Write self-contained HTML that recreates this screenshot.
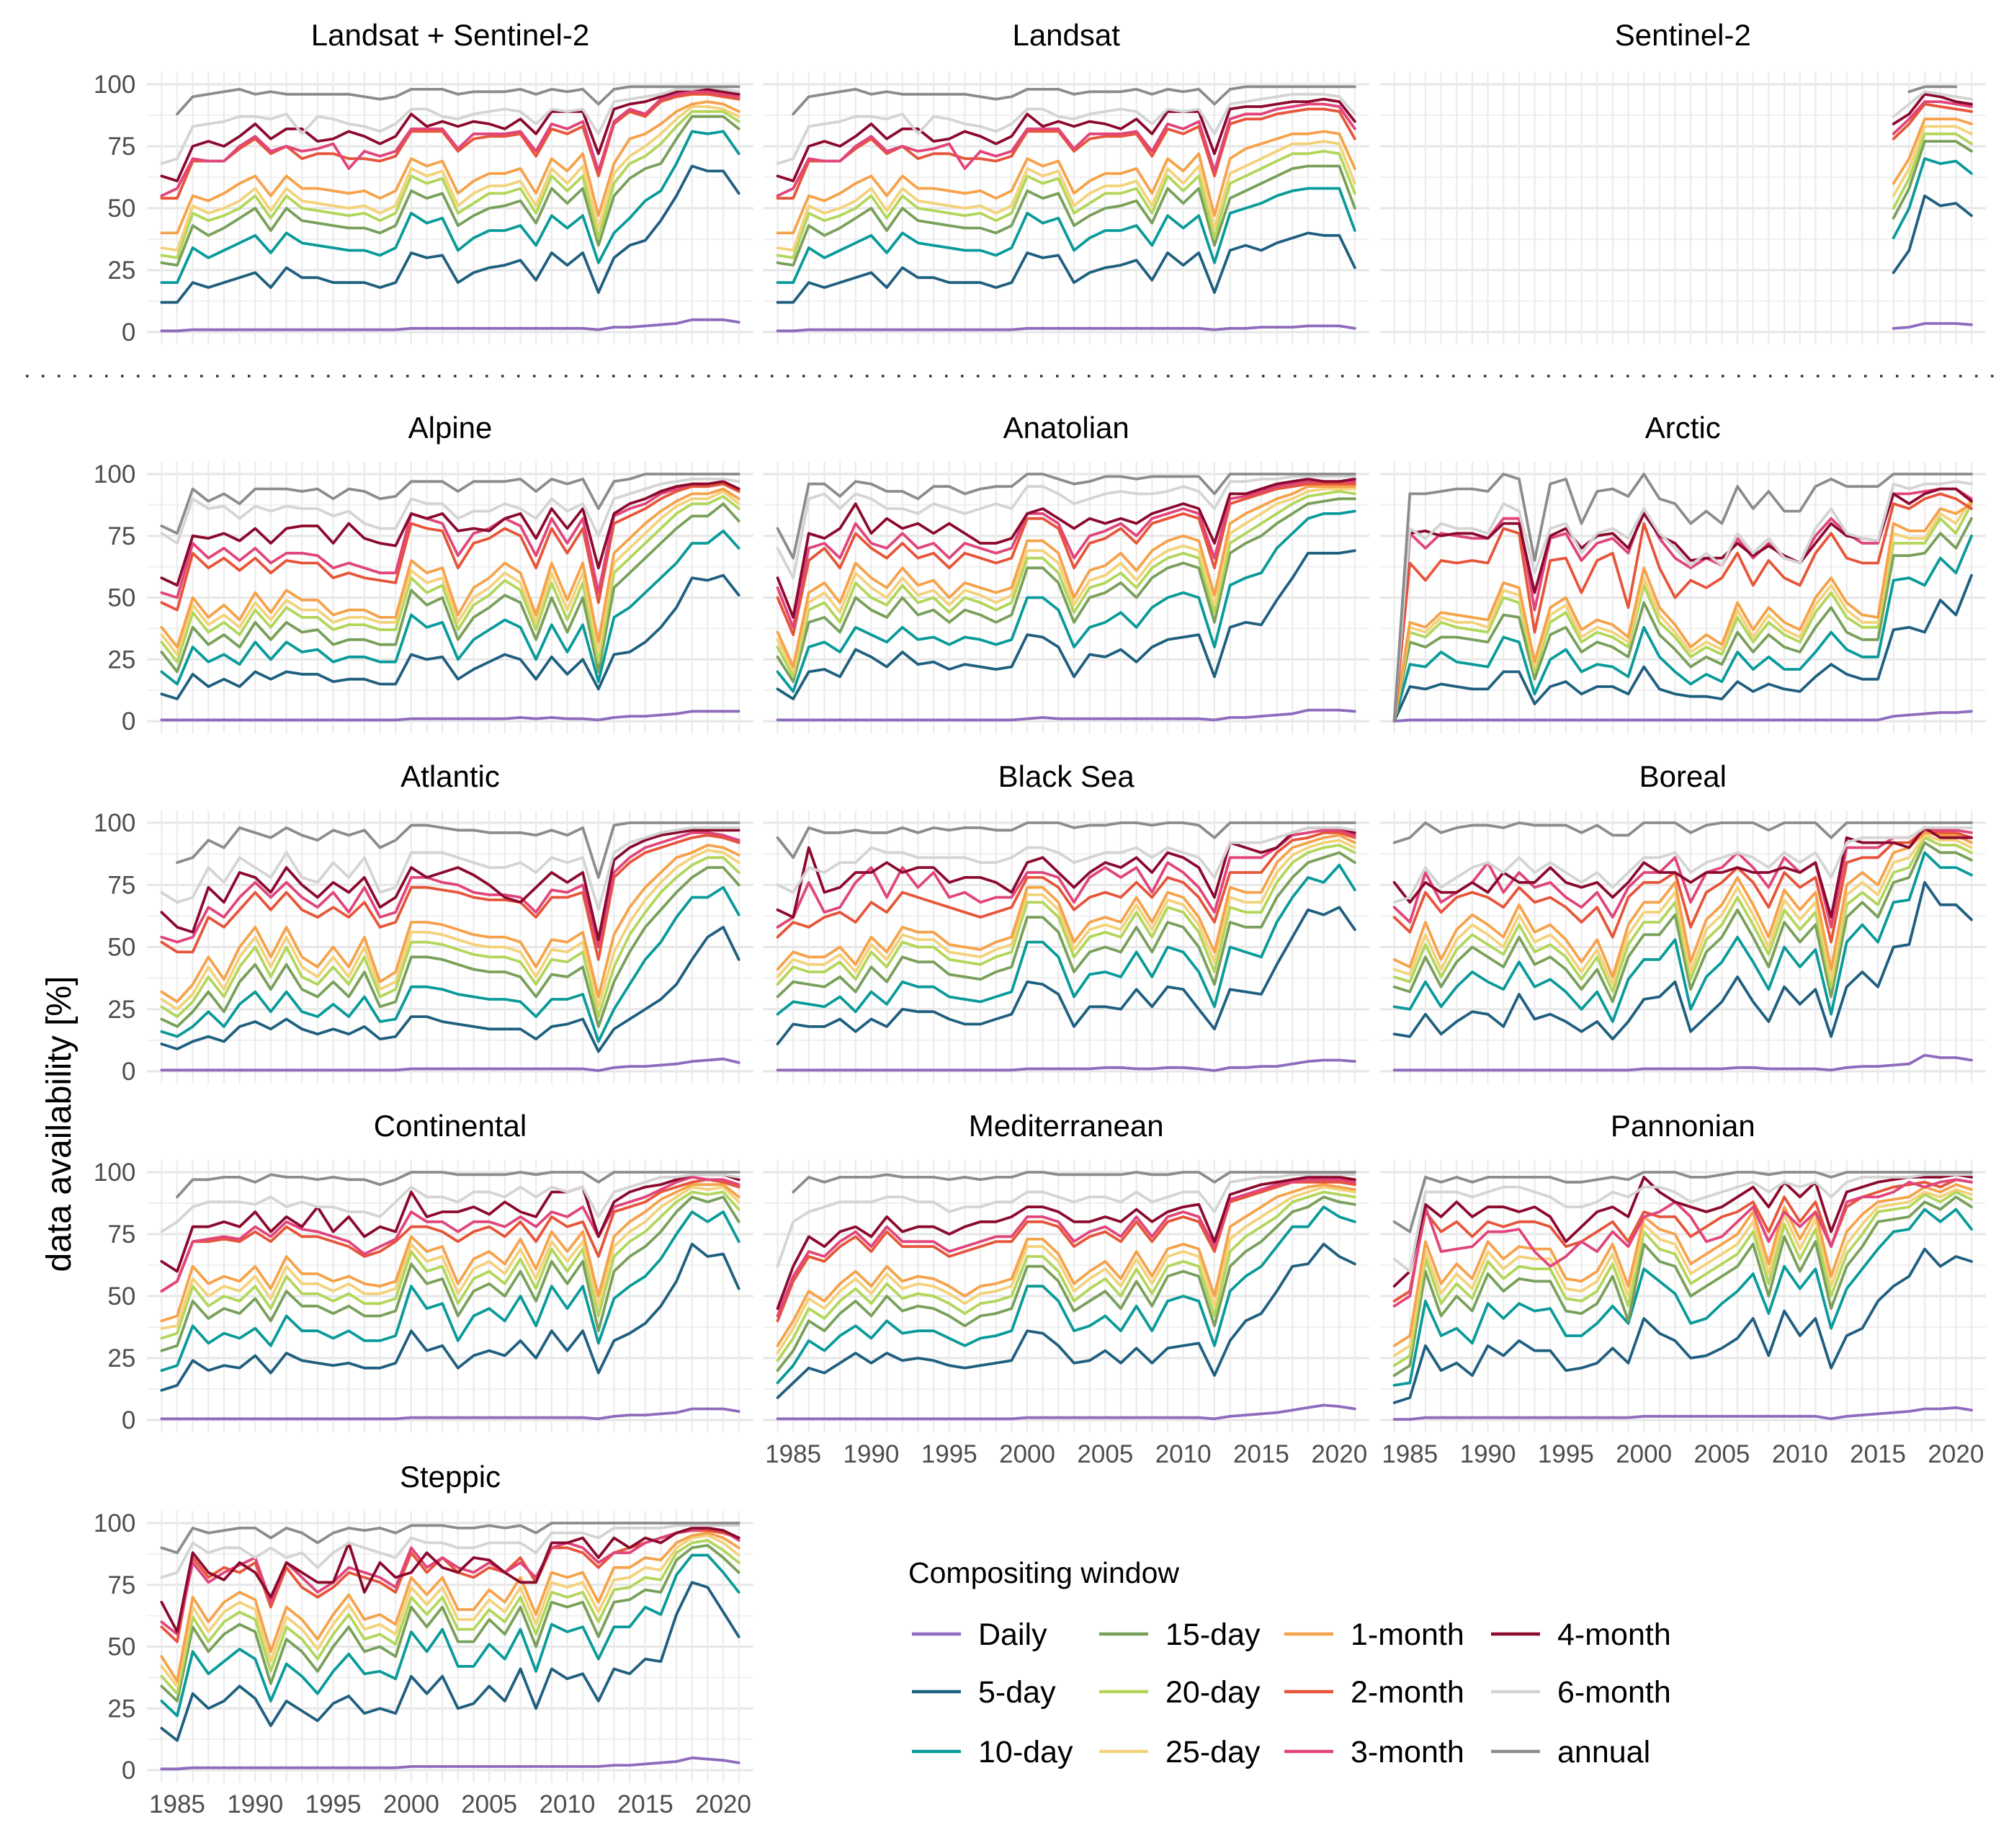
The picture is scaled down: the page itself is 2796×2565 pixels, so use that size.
<!DOCTYPE html>
<html><head><meta charset="utf-8"><title>data availability</title>
<style>
html,body{margin:0;padding:0;background:#fff;}
svg{display:block;font-family:"Liberation Sans",Arial,sans-serif;}
</style></head>
<body>
<svg id="chart" width="2796" height="2565" viewBox="0 0 2796 2565" xmlns="http://www.w3.org/2000/svg">
<rect width="2796" height="2565" fill="#fff"/>
<g id="grid"></g><g id="lines"></g><g id="labels"></g>
<line x1="36" y1="522" x2="2780" y2="522" stroke="#333" stroke-width="3.5" stroke-dasharray="3.5 18.5"/>
<text x="0" y="0" transform="translate(98,1560) rotate(-90)" text-anchor="middle" font-size="48" fill="#000">data availability [%]</text>
<g id="legend">
<text x="1261" y="2197" font-size="41" fill="#000">Compositing window</text>
</g>
</svg>
<script>
const SERIES=['daily','d5','d10','d15','d20','d25','m1','m2','m3','m4','m6','ann'];
const LABELS=['Daily','5-day','10-day','15-day','20-day','25-day','1-month','2-month','3-month','4-month','6-month','annual'];
const COLORS=['#8e6bbd','#1f5f7f','#0a9a9a','#79a05a','#b2d65a','#f3d27a','#f6a24a','#e6553a','#e0457b','#8b0a2e','#d4d4d4','#8c8c8c'];
const xTicks=[1985,1990,1995,2000,2005,2010,2015,2020];
const yTicks=[0,25,50,75,100];

const LS2={
daily:[0.5,0.5,1,1,1,1,1,1,1,1,1,1,1,1,1,1,1.5,1.5,1.5,1.5,1.5,1.5,1.5,1.5,1.5,1.5,1.5,1.5,1,2,2,2.5,3,3.5,5,5,5,4],
d5:[12,12,20,18,20,22,24,18,26,22,22,20,20,20,18,20,32,30,31,20,24,26,27,29,21,32,27,32,16,30,35,37,45,55,67,65,65,56],
d10:[20,20,34,30,33,36,39,32,40,36,35,34,33,33,31,34,48,44,46,33,38,41,41,43,35,47,42,47,28,40,46,53,57,68,81,80,81,72],
d15:[28,27,43,39,42,46,50,41,50,45,44,43,42,42,40,43,57,54,56,43,47,50,51,53,44,58,52,58,35,55,62,66,68,78,87,87,87,82],
d20:[31,30,48,45,47,50,55,46,55,50,49,48,47,48,45,48,63,60,62,48,52,56,56,58,48,63,57,63,38,60,68,71,76,83,89,89,89,85],
d25:[34,33,51,48,50,53,58,49,58,53,52,51,50,51,48,51,66,63,65,51,56,59,59,61,51,66,60,67,42,64,71,75,80,86,91,91,90,87],
m1:[40,40,55,53,56,60,63,55,63,58,58,57,56,57,54,57,70,67,69,56,61,64,64,66,56,70,65,72,47,68,78,80,84,89,92,93,92,89],
m2:[54,54,69,69,69,74,78,72,75,70,72,72,70,70,69,71,81,81,81,73,78,79,79,80,71,82,80,83,63,84,89,87,93,95,96,96,95,94],
m3:[55,58,70,69,69,75,79,73,75,73,74,76,66,73,71,73,82,82,82,74,80,80,80,81,73,84,82,85,65,85,90,88,94,96,97,97,96,95],
m4:[63,61,75,77,75,79,84,78,82,82,77,78,81,79,76,79,88,83,85,83,85,84,82,86,80,89,89,89,72,90,92,93,95,97,98,98,97,96],
m6:[68,70,83,84,85,87,87,86,88,80,87,86,84,83,81,84,90,90,87,86,88,89,90,89,84,90,89,90,80,93,94,95,96,98,98,99,98,97],
ann:[null,88,95,96,97,98,96,97,96,96,96,96,96,95,94,95,98,98,98,96,97,97,97,98,96,98,97,98,92,98,99,99,99,99,99,99,99,99]};

const LANDSAT={
daily:[0.5,0.5,1,1,1,1,1,1,1,1,1,1,1,1,1,1,1.5,1.5,1.5,1.5,1.5,1.5,1.5,1.5,1.5,1.5,1.5,1.5,1,1.5,1.5,2,2,2,2.5,2.5,2.5,1.5],
d5:[12,12,20,18,20,22,24,18,26,22,22,20,20,20,18,20,32,30,31,20,24,26,27,29,21,32,27,32,16,33,35,33,36,38,40,39,39,26],
d10:[20,20,34,30,33,36,39,32,40,36,35,34,33,33,31,34,48,44,46,33,38,41,41,43,35,47,42,47,28,48,50,52,55,57,58,58,58,41],
d15:[28,27,43,39,42,46,50,41,50,45,44,43,42,42,40,43,57,54,56,43,47,50,51,53,44,58,52,58,35,54,57,60,63,66,67,67,67,50],
d20:[31,30,48,45,47,50,55,46,55,50,49,48,47,48,45,48,63,60,62,48,52,56,56,58,48,63,57,63,38,60,63,66,69,72,72,73,72,56],
d25:[34,33,51,48,50,53,58,49,58,53,52,51,50,51,48,51,66,63,65,51,56,59,59,61,51,66,60,67,42,64,67,70,73,76,76,77,76,60],
m1:[40,40,55,53,56,60,63,55,63,58,58,57,56,57,54,57,70,67,69,56,61,64,64,66,56,70,65,72,47,70,74,76,78,80,80,81,80,66],
m2:[54,54,69,69,69,74,78,72,75,70,72,72,70,70,69,71,81,81,81,73,78,79,79,80,71,82,80,83,63,84,86,86,88,89,90,90,89,78],
m3:[55,58,70,69,69,75,79,73,75,73,74,76,66,73,71,73,82,82,82,74,80,80,80,81,73,84,82,85,65,86,88,88,90,91,92,92,91,82],
m4:[63,61,75,77,75,79,84,78,82,82,77,78,81,79,76,79,88,83,85,83,85,84,82,86,80,89,89,89,72,90,91,91,92,93,93,94,93,85],
m6:[68,70,83,84,85,87,87,86,88,80,87,86,84,83,81,84,90,90,87,86,88,89,90,89,84,90,89,90,80,92,93,94,95,96,96,96,95,88],
ann:[null,88,95,96,97,98,96,97,96,96,96,96,96,95,94,95,98,98,98,96,97,97,97,98,96,98,97,98,92,98,99,99,99,99,99,99,99,99]};

const S2={
daily:[1.5,2,3.5,3.5,3.5,3],
d5:[24,33,55,51,52,47],
d10:[38,50,70,68,69,64],
d15:[46,58,77,77,77,73],
d20:[50,62,80,80,80,76],
d25:[55,66,83,83,83,80],
m1:[60,70,86,86,86,84],
m2:[78,84,92,91,90,89],
m3:[80,86,93,93,92,91],
m4:[84,88,96,95,93,92],
m6:[87,92,97,96,95,94],
ann:[null,97,99,99,99,null]};

const ALPINE={
daily:[0.5,0.5,0.5,0.5,0.5,0.5,0.5,0.5,0.5,0.5,0.5,0.5,0.5,0.5,0.5,0.5,1,1,1,1,1,1,1,1.5,1,1.5,1,1,0.5,1.5,2,2,2.5,3,4,4,4,4],
d5:[11,9,19,14,17,14,20,17,20,19,19,16,17,17,15,15,27,25,26,17,21,24,27,25,17,26,19,25,13,27,28,32,38,46,58,57,59,51],
d10:[20,15,30,24,27,23,32,25,32,28,29,24,26,26,24,24,43,38,40,25,33,37,41,38,25,39,28,39,16,42,46,52,58,64,72,72,77,70],
d15:[28,20,38,31,35,30,40,33,40,36,37,31,33,33,31,31,53,47,50,33,42,46,51,48,33,50,36,50,20,54,60,66,72,78,83,83,88,81],
d20:[32,24,44,36,40,35,45,38,46,42,42,37,39,39,37,37,58,52,55,37,47,51,57,53,37,56,41,56,24,60,66,72,78,84,88,88,91,86],
d25:[35,27,47,39,43,38,48,41,49,45,45,40,42,42,40,40,61,56,58,40,50,54,60,56,40,60,45,60,28,64,70,76,82,87,90,90,93,88],
m1:[38,30,50,42,47,41,52,44,53,49,49,43,45,45,42,42,65,60,62,43,54,58,64,60,43,64,49,64,32,68,74,80,85,89,92,92,94,90],
m2:[48,45,68,62,66,61,66,60,65,64,64,58,60,58,57,56,80,78,77,62,72,74,78,75,62,78,68,78,48,80,83,86,90,93,95,95,96,93],
m3:[52,50,72,66,70,65,70,64,68,68,67,62,64,62,60,60,84,82,80,67,76,78,82,79,67,82,72,82,52,83,86,88,92,94,96,96,97,94],
m4:[58,55,75,74,76,73,78,72,78,79,79,72,80,74,72,71,84,82,84,77,78,77,82,84,74,86,78,86,62,84,88,90,93,95,96,96,97,94],
m6:[76,72,90,86,87,82,87,85,87,86,86,83,85,80,78,78,90,88,88,82,85,85,88,86,82,90,85,88,75,90,92,94,96,97,98,98,98,97],
ann:[79,76,94,89,92,88,94,94,94,93,94,90,94,93,90,91,97,97,97,93,97,97,97,98,93,98,96,98,86,97,98,100,100,100,100,100,100,100]};

const ANATOLIAN={
daily:[0.5,0.5,0.5,0.5,0.5,0.5,0.5,0.5,0.5,0.5,0.5,0.5,0.5,0.5,0.5,0.5,1,1.5,1,1,1,1,1,1,1,1,1,1,0.5,1.5,1.5,2,2.5,3,4.5,4.5,4.5,4],
d5:[13,9,20,21,18,29,26,22,28,23,24,21,23,22,21,22,35,34,30,18,27,26,29,24,30,33,34,35,18,38,40,39,49,58,68,68,68,69],
d10:[20,12,30,32,28,38,35,32,38,33,34,31,34,33,31,33,50,50,45,30,38,40,44,38,46,50,52,50,30,55,58,60,70,76,82,84,84,85],
d15:[26,16,40,42,36,50,45,42,50,43,45,40,45,43,40,43,62,62,56,40,50,52,56,50,58,62,64,62,40,68,72,75,80,84,88,89,90,90],
d20:[30,18,45,48,40,56,50,47,55,48,50,44,50,48,45,48,66,66,60,44,54,56,60,54,62,66,68,66,44,72,76,80,84,88,91,92,93,92],
d25:[33,20,48,52,44,60,54,50,58,51,53,47,53,51,48,51,69,69,64,47,57,59,64,57,65,69,71,69,47,76,80,84,88,90,93,94,94,94],
m1:[36,22,52,56,48,64,58,54,62,55,57,50,56,54,52,54,73,73,68,50,61,63,68,61,69,73,75,73,51,80,84,87,90,92,95,95,95,95],
m2:[50,35,65,70,62,76,70,66,72,66,68,62,68,66,64,66,82,82,78,62,72,74,78,72,80,82,84,82,62,88,90,92,94,95,96,96,96,96],
m3:[54,38,70,72,66,80,72,70,76,70,72,66,72,70,68,70,84,84,80,66,75,77,80,75,82,84,86,84,66,90,91,93,95,96,97,97,97,97],
m4:[58,42,76,74,78,88,76,82,78,80,76,80,76,72,72,74,84,86,82,78,82,80,82,80,84,86,88,86,72,92,92,94,96,97,98,97,97,98],
m6:[70,58,90,92,86,92,90,86,86,84,88,86,84,86,88,86,95,95,92,88,90,92,93,92,92,93,95,93,86,97,97,98,98,99,99,99,99,99],
ann:[78,66,96,96,91,97,96,93,93,90,95,95,92,94,95,95,100,100,98,96,97,99,99,98,99,99,99,99,92,100,100,100,100,100,100,100,100,100]};

const ARCTIC={
daily:[0,0.5,0.5,0.5,0.5,0.5,0.5,0.5,0.5,0.5,0.5,0.5,0.5,0.5,0.5,0.5,0.5,0.5,0.5,0.5,0.5,0.5,0.5,0.5,0.5,0.5,0.5,0.5,0.5,0.5,0.5,0.5,2,2.5,3,3.5,3.5,4],
d5:[0,14,13,15,14,13,13,20,20,7,14,16,11,14,14,11,22,13,11,10,10,9,16,12,15,13,12,18,23,19,17,17,37,38,36,49,43,59],
d10:[0,23,22,28,24,23,22,34,32,11,25,29,20,23,22,18,38,26,20,15,19,16,28,21,26,21,21,28,36,29,26,26,57,58,55,66,60,75],
d15:[0,32,30,34,34,33,32,43,42,17,35,38,28,32,30,26,48,35,29,22,26,23,36,28,35,30,28,38,46,36,33,33,67,67,68,76,70,82],
d20:[0,36,34,40,38,37,36,50,48,20,40,44,32,36,34,30,55,40,34,26,30,27,42,32,40,35,32,44,52,42,38,38,72,72,72,82,76,88],
d25:[0,38,36,42,40,40,38,53,51,22,43,47,34,38,36,32,58,43,36,28,32,29,45,34,43,37,34,47,55,45,40,40,76,74,74,84,80,90],
m1:[0,40,38,44,43,42,41,56,54,24,46,50,37,41,39,34,62,46,39,30,35,31,48,37,46,40,37,50,58,48,43,42,80,77,77,86,84,88],
m2:[0,64,57,65,64,65,64,78,76,36,65,66,52,65,68,46,80,62,50,57,54,58,68,55,65,58,55,68,76,66,64,64,88,86,90,92,90,86],
m3:[0,76,70,76,75,74,74,82,82,45,74,76,65,72,74,68,86,74,66,62,66,63,74,66,72,66,64,75,82,76,72,72,92,92,93,94,94,90],
m4:[0,76,77,75,76,76,74,80,80,52,75,78,70,75,76,70,84,75,72,65,66,66,72,67,71,67,64,72,80,75,74,73,92,88,92,94,94,89],
m6:[0,78,74,80,78,78,76,88,85,60,78,80,68,76,78,74,86,76,70,63,68,63,76,68,74,66,64,78,86,76,74,73,96,94,96,96,97,96],
ann:[0,92,92,93,94,94,93,100,98,65,96,98,80,93,94,91,100,90,88,80,85,80,95,86,93,85,85,95,98,95,95,95,100,100,100,100,100,100]};

const ATLANTIC={
daily:[0.5,0.5,0.5,0.5,0.5,0.5,0.5,0.5,0.5,0.5,0.5,0.5,0.5,0.5,0.5,0.5,1,1,1,1,1,1,1,1,1,1,1,1,0.3,1.5,2,2,2.5,3,4,4.5,5,3.5],
d5:[11,9,12,14,12,18,20,17,21,17,15,17,15,18,13,14,22,22,20,19,18,17,17,17,13,18,19,21,8,17,21,25,29,35,45,54,58,45],
d10:[16,14,18,24,18,27,32,24,32,24,22,27,22,30,20,21,34,34,33,31,30,29,29,28,22,29,29,31,12,25,35,45,52,62,70,70,74,63],
d15:[21,18,24,32,24,36,43,33,43,33,30,36,30,40,26,28,46,46,45,43,41,40,40,38,30,39,38,42,18,36,48,58,65,72,78,82,82,75],
d20:[26,22,28,38,30,42,50,38,50,38,35,42,35,46,30,33,52,52,51,49,47,46,46,44,35,45,44,48,22,42,55,64,72,78,83,86,86,80],
d25:[29,25,31,42,33,46,54,42,54,42,38,46,38,50,33,36,56,56,55,53,51,50,50,48,38,49,48,52,26,48,60,69,76,82,86,89,88,84],
m1:[32,28,35,46,37,50,58,46,58,46,42,50,42,54,36,40,60,60,59,57,55,54,54,52,42,53,52,56,30,55,66,74,80,86,88,91,90,87],
m2:[52,48,48,62,58,65,72,65,72,65,62,66,62,68,58,60,74,74,73,72,70,69,69,68,62,70,70,72,45,78,84,88,90,92,94,95,94,92],
m3:[54,52,54,66,62,70,76,70,76,70,66,72,64,74,62,64,78,78,76,75,72,71,71,70,64,73,72,75,50,80,86,90,92,94,96,96,95,93],
m4:[64,58,56,74,68,80,78,72,82,75,70,76,72,78,66,70,82,78,80,82,79,75,70,68,74,80,76,80,53,85,90,93,95,96,97,97,97,97],
m6:[72,68,70,82,76,86,82,78,88,78,76,84,78,86,72,74,88,88,88,86,84,82,82,84,80,86,84,86,65,88,92,94,96,97,98,98,98,98],
ann:[null,84,86,93,90,98,96,94,98,95,93,97,95,97,90,93,99,99,98,97,97,96,96,96,95,97,95,98,78,99,100,100,100,100,100,100,100,100]};

const BLACKSEA={
daily:[0.5,0.5,0.5,0.5,0.5,0.5,0.5,0.5,0.5,0.5,0.5,0.5,0.5,0.5,0.5,0.5,1,1,1,1,1,1.5,1.5,1,1,1.5,1.5,1,0.3,1.5,1.5,2,2,3,4,4.5,4.5,4],
d5:[11,19,18,18,21,16,21,18,25,24,24,21,19,19,21,23,36,35,31,18,26,26,25,33,26,34,33,25,17,33,32,31,43,54,65,63,66,57],
d10:[23,28,27,26,30,24,32,27,36,34,34,30,29,28,30,32,52,52,46,30,39,40,38,48,38,50,48,40,26,50,48,46,60,70,78,76,83,73],
d15:[30,36,35,34,38,32,42,36,46,44,44,39,38,37,40,42,62,62,56,40,48,50,48,58,48,60,58,50,35,60,58,58,70,78,84,86,88,84],
d20:[35,42,40,40,44,37,48,42,52,50,50,45,44,43,46,48,68,68,62,46,54,56,54,64,54,66,64,56,40,66,64,64,76,84,88,90,91,88],
d25:[38,45,43,43,47,40,51,45,55,53,53,48,47,46,49,51,71,71,65,49,57,59,57,67,57,69,67,59,44,70,68,68,80,87,90,92,93,90],
m1:[41,48,46,46,50,43,54,48,58,56,56,51,50,49,52,54,74,74,68,52,60,62,60,70,60,72,70,62,48,74,72,72,84,90,92,94,95,92],
m2:[54,60,58,62,64,60,68,64,72,70,68,66,64,62,64,66,78,78,74,65,70,72,70,76,70,78,76,70,60,80,80,80,88,93,94,96,96,94],
m3:[58,62,76,64,66,76,82,70,82,74,80,70,72,68,70,70,80,80,78,68,78,82,78,82,72,84,80,74,64,86,86,86,90,95,96,97,97,95],
m4:[65,62,90,72,74,80,80,84,80,82,82,76,78,78,76,72,84,86,80,74,80,84,82,86,80,88,86,82,70,92,90,88,90,96,98,98,98,96],
m6:[75,72,82,80,84,84,90,88,88,86,86,86,86,84,84,86,90,90,88,84,86,88,88,90,86,90,88,86,78,92,92,92,94,96,98,98,98,97],
ann:[94,86,98,96,96,97,96,96,98,96,98,97,98,98,97,97,100,100,100,98,99,99,100,100,99,100,100,99,94,100,100,100,100,100,100,100,100,100]};

const BOREAL={
daily:[0.5,0.5,0.5,0.5,0.5,0.5,0.5,0.5,0.5,0.5,0.5,0.5,0.5,0.5,0.5,0.5,1,1,1,1,1,1,1.5,1.5,1,1,1,1,0.5,1.5,2,2,2.5,3,6.5,5.5,5.5,4.5],
d5:[15,14,23,15,20,24,23,18,31,21,23,20,16,20,13,20,29,30,36,16,22,28,38,28,20,34,27,33,14,34,40,34,50,51,76,67,67,61],
d10:[26,25,36,26,34,40,36,33,44,34,37,32,25,32,20,37,45,45,53,25,38,44,54,44,33,50,42,49,23,52,59,52,68,69,88,82,82,79],
d15:[34,32,46,34,44,50,46,42,54,43,46,41,33,41,28,46,55,55,63,33,48,54,65,54,42,60,52,59,30,62,68,62,76,78,92,88,88,85],
d20:[38,36,51,38,49,55,51,47,59,48,51,46,37,46,32,51,60,60,68,37,53,59,70,59,47,65,57,64,34,67,72,67,80,82,94,91,91,88],
d25:[41,39,55,41,53,59,55,50,63,52,55,49,40,49,35,55,64,64,72,40,57,63,74,63,50,69,61,68,37,71,76,71,84,86,95,93,93,90],
m1:[45,42,60,45,57,63,59,54,67,56,59,53,44,53,38,59,68,68,76,44,61,67,78,67,54,73,65,72,41,75,80,75,88,90,96,95,95,92],
m2:[62,56,72,64,70,72,70,66,74,68,70,66,60,66,54,70,76,76,80,58,72,76,82,76,66,80,74,78,52,84,86,86,92,92,97,96,96,94],
m3:[66,60,80,68,72,76,84,72,80,74,76,70,66,72,62,74,80,80,86,68,80,82,88,82,74,86,80,84,58,90,90,90,94,94,98,97,97,96],
m4:[76,68,76,72,72,76,72,80,76,76,82,76,74,76,70,76,84,80,80,76,80,80,82,80,80,82,80,84,62,94,92,92,92,90,98,94,94,94],
m6:[68,70,82,74,78,82,84,80,86,80,84,80,76,80,74,80,86,86,88,80,84,86,88,86,82,88,84,88,78,92,94,94,94,94,98,98,98,98],
ann:[92,94,100,96,98,99,99,98,100,99,99,99,96,99,95,95,100,100,100,96,99,100,100,100,97,100,100,100,94,100,100,100,100,100,100,100,100,100]};

const CONTINENTAL={
daily:[0.5,0.5,0.5,0.5,0.5,0.5,0.5,0.5,0.5,0.5,0.5,0.5,0.5,0.5,0.5,0.5,1,1,1,1,1,1,1,1,1,1,1,1,0.5,1.5,2,2,2.5,3,4.5,4.5,4.5,3.5],
d5:[12,14,24,20,22,21,26,19,27,24,23,22,23,21,21,23,36,28,30,21,26,28,26,32,25,36,28,36,19,32,35,39,46,56,71,66,67,53],
d10:[20,22,38,31,35,33,37,30,42,36,36,33,36,32,32,34,54,45,47,32,42,45,40,50,38,54,45,54,31,49,54,58,65,75,84,80,84,72],
d15:[28,30,48,41,45,43,49,40,52,46,46,43,46,42,42,44,63,55,57,42,52,55,50,60,48,64,55,64,36,60,66,70,76,84,90,88,90,80],
d20:[33,35,54,46,50,48,54,45,58,51,51,48,51,47,47,49,68,60,62,47,57,60,55,65,53,69,60,69,42,66,72,76,82,88,92,91,92,85],
d25:[37,38,57,50,54,52,58,49,62,55,55,52,55,51,51,53,71,64,66,51,61,64,59,69,57,72,64,72,46,70,76,80,86,90,94,93,94,88],
m1:[40,42,62,55,58,56,62,53,66,59,59,56,58,55,54,56,74,68,70,55,65,68,63,73,61,76,68,76,50,74,80,84,89,92,95,95,95,90],
m2:[52,56,72,72,73,72,76,72,78,74,74,72,70,66,68,72,78,78,76,72,76,78,74,80,72,82,78,80,66,84,86,88,92,94,96,97,96,94],
m3:[52,56,72,73,74,73,78,74,80,77,76,74,72,67,70,73,84,80,80,76,80,80,78,82,78,84,82,86,74,86,88,90,93,96,98,97,97,95],
m4:[64,60,78,78,80,78,84,76,82,78,86,76,82,74,78,76,92,82,84,84,86,83,88,84,82,92,92,94,74,88,92,94,95,97,99,99,99,97],
m6:[76,80,86,88,88,88,87,90,86,88,86,86,84,84,82,88,94,90,90,88,92,92,90,94,90,94,92,94,82,92,94,96,98,98,99,99,99,98],
ann:[null,90,97,97,98,98,96,99,98,98,97,98,97,97,95,97,100,100,100,99,99,99,99,100,99,100,100,100,96,100,100,100,100,100,100,100,100,100]};

const MEDITERRANEAN={
daily:[0.5,0.5,0.5,0.5,0.5,0.5,0.5,0.5,0.5,0.5,0.5,0.5,0.5,0.5,0.5,0.5,1,1,1,1,1,1,1,1,1,1,1,1,0.5,1.5,2,2.5,3,4,5,6,5.5,4.5],
d5:[9,15,21,19,23,27,23,27,24,25,24,22,21,22,23,24,36,35,30,23,24,28,23,29,23,29,30,31,18,32,40,43,52,62,63,71,66,63],
d10:[15,22,32,28,34,38,33,40,35,36,36,33,30,33,34,36,54,54,48,36,38,42,36,46,36,48,50,48,30,52,58,62,70,78,78,86,82,80],
d15:[20,28,40,36,43,48,42,50,44,46,45,42,38,42,43,45,62,62,56,44,48,52,45,56,46,58,60,58,38,62,68,72,78,84,86,90,88,87],
d20:[24,33,45,41,48,53,47,55,49,51,50,47,43,47,48,50,66,66,60,48,53,57,50,61,51,62,64,62,42,68,74,78,82,88,90,92,91,90],
d25:[27,37,49,45,52,57,51,59,53,55,54,51,47,51,52,54,70,70,64,52,57,61,54,65,55,66,68,66,46,73,78,82,86,90,92,94,93,92],
m1:[30,40,52,48,55,60,54,62,56,58,57,54,50,54,55,57,73,73,67,55,60,64,57,68,58,69,71,69,50,78,82,86,90,92,94,95,94,93],
m2:[40,56,66,64,70,74,68,76,70,70,70,66,68,70,72,72,80,80,78,70,74,76,72,80,72,80,82,80,68,88,90,92,94,96,96,96,96,95],
m3:[42,58,68,66,72,76,70,78,72,72,72,68,70,72,74,74,82,82,80,72,76,78,74,82,74,82,84,82,70,89,91,93,95,96,97,97,97,96],
m4:[45,62,74,70,76,78,74,82,76,78,78,75,78,80,80,82,86,86,84,80,80,82,80,85,80,84,86,87,72,91,93,95,96,97,98,98,98,97],
m6:[62,80,84,86,88,88,88,90,90,88,88,84,86,86,88,88,92,92,90,88,90,90,88,92,88,90,92,92,84,96,97,98,98,99,99,99,99,99],
ann:[null,92,98,96,98,98,98,99,98,98,98,97,98,97,98,98,100,100,99,99,99,99,99,100,99,99,100,100,96,100,100,100,100,100,100,100,100,100]};

const PANNONIAN={
daily:[0.3,0.3,1,1,1,1,1,1,1,1,1,1,1,1,1,1,1.5,1.5,1.5,1.5,1.5,1.5,1.5,1.5,1.5,1.5,1.5,1.5,0.5,1.5,2,2.5,3,3.5,4.5,4.5,5,4],
d5:[7,9,30,20,23,18,30,26,32,28,28,20,21,23,29,23,41,35,32,25,26,29,33,41,26,44,34,41,21,34,37,48,54,58,69,62,66,64],
d10:[14,15,48,34,37,31,47,41,47,44,45,34,34,39,46,39,61,56,51,39,41,47,52,59,43,62,53,61,37,53,61,69,76,77,85,80,85,77],
d15:[18,22,60,42,50,44,59,52,57,56,56,44,43,47,58,40,71,64,62,50,54,58,62,71,50,74,60,72,45,62,70,80,81,82,88,85,90,86],
d20:[22,26,65,47,55,49,64,57,62,61,61,49,48,52,63,46,76,69,67,55,59,63,67,76,55,79,65,77,50,67,75,84,85,86,91,88,92,89],
d25:[26,30,68,51,59,53,68,61,66,65,65,53,52,56,67,50,79,73,71,59,63,67,71,80,59,83,69,81,54,71,79,86,87,88,92,90,93,91],
m1:[30,34,72,55,63,57,72,65,70,69,69,57,56,60,71,54,82,77,75,63,67,71,75,84,63,86,73,84,58,76,83,88,89,90,94,92,95,93],
m2:[48,52,84,76,80,74,80,78,80,80,78,70,72,76,80,72,84,82,82,74,78,82,84,88,76,90,80,88,70,86,90,92,94,95,96,94,97,96],
m3:[46,50,86,68,69,70,76,76,77,68,62,66,72,68,76,70,82,84,88,82,72,74,80,86,72,84,78,84,70,88,90,90,92,96,94,96,97,96],
m4:[54,60,87,82,88,82,86,86,84,86,82,72,78,84,86,82,98,92,88,86,84,86,90,94,86,96,90,96,76,92,94,96,97,98,98,98,99,98],
m6:[65,60,92,92,92,90,92,94,94,92,90,86,86,88,92,90,94,94,92,88,90,92,94,96,92,96,94,96,90,96,98,98,98,98,99,99,99,99],
ann:[80,76,98,96,98,96,98,98,98,98,98,96,96,97,98,97,100,100,100,98,98,99,100,100,99,100,100,100,98,100,100,100,100,100,100,100,100,100]};

const STEPPIC={
daily:[0.5,0.5,1,1,1,1,1,1,1,1,1,1,1,1,1,1,1.5,1.5,1.5,1.5,1.5,1.5,1.5,1.5,1.5,1.5,1.5,1.5,1.5,2,2,2.5,3,3.5,5,4.5,4,3],
d5:[17,12,31,25,28,34,29,18,28,24,20,27,30,23,25,23,38,31,38,25,27,34,28,41,25,41,37,39,28,41,39,45,44,63,76,74,64,54],
d10:[28,22,48,39,44,49,45,28,43,38,31,40,47,39,40,37,56,48,57,42,42,51,45,57,40,59,56,58,45,58,58,66,63,79,87,87,80,72],
d15:[34,28,58,48,55,59,56,35,53,48,40,50,58,48,50,46,66,58,66,52,52,61,55,66,50,68,66,68,54,68,69,73,72,85,90,91,86,80],
d20:[38,31,62,52,60,64,61,40,58,53,45,55,63,53,55,51,70,63,70,57,57,65,60,70,55,72,70,72,60,73,74,78,77,88,92,93,89,84],
d25:[42,34,66,56,64,68,65,44,62,57,49,59,67,57,59,55,74,67,74,61,61,69,64,74,59,76,74,76,64,77,78,82,81,90,94,95,92,87],
m1:[46,36,70,60,68,72,69,48,66,61,53,63,71,61,63,59,78,71,78,65,65,73,68,78,63,80,78,80,68,82,82,86,85,92,95,96,94,90],
m2:[58,52,86,78,82,80,84,66,82,74,70,74,80,78,76,72,88,80,86,80,78,82,80,86,76,90,90,88,82,88,90,92,94,96,97,97,96,94],
m3:[60,55,84,76,80,83,86,68,84,78,72,76,82,80,78,74,90,82,86,82,80,84,80,84,78,90,92,90,84,88,88,92,94,96,97,98,97,93],
m4:[68,56,88,80,77,84,80,70,84,80,76,76,92,72,84,78,80,88,82,80,86,85,80,76,76,92,92,94,86,94,90,94,92,96,98,98,97,94],
m6:[78,80,92,88,90,90,86,90,86,88,82,88,92,90,88,86,94,92,92,90,90,92,92,92,88,96,96,96,94,98,98,98,98,99,99,99,99,99],
ann:[90,88,98,96,97,98,98,94,98,96,92,96,98,97,98,96,99,99,99,98,98,99,98,99,96,100,100,100,100,100,100,100,100,100,100,100,100,100]};

const PANELS=[
{title:'Landsat + Sentinel-2',key:'landsat-sentinel-2',data:LS2,start:1984,col:0,row:0,xl:false},
{title:'Landsat',key:'landsat',data:LANDSAT,start:1984,col:1,row:0,xl:false},
{title:'Sentinel-2',key:'sentinel-2',data:S2,start:2016,col:2,row:0,xl:false},
{title:'Alpine',key:'alpine',data:ALPINE,start:1984,col:0,row:1,xl:false},
{title:'Anatolian',key:'anatolian',data:ANATOLIAN,start:1984,col:1,row:1,xl:false},
{title:'Arctic',key:'arctic',data:ARCTIC,start:1984,col:2,row:1,xl:false},
{title:'Atlantic',key:'atlantic',data:ATLANTIC,start:1984,col:0,row:2,xl:false},
{title:'Black Sea',key:'black-sea',data:BLACKSEA,start:1984,col:1,row:2,xl:false},
{title:'Boreal',key:'boreal',data:BOREAL,start:1984,col:2,row:2,xl:false},
{title:'Continental',key:'continental',data:CONTINENTAL,start:1984,col:0,row:3,xl:false},
{title:'Mediterranean',key:'mediterranean',data:MEDITERRANEAN,start:1984,col:1,row:3,xl:true},
{title:'Pannonian',key:'pannonian',data:PANNONIAN,start:1984,col:2,row:3,xl:true},
{title:'Steppic',key:'steppic',data:STEPPIC,start:1984,col:0,row:4,xl:true}
];

const NS='http://www.w3.org/2000/svg';
const COLX=[224.3,1079.5,1935.6];
const YEARW=21.66;
const ROWY=[[117,461],[658,1001],[1142,1487],[1627,1971],[2114,2457]];
const gGrid=document.getElementById('grid');
const gLines=document.getElementById('lines');
const gLab=document.getElementById('labels');
function mk(tag,attrs,parent){const e=document.createElementNS(NS,tag);for(const k in attrs)e.setAttribute(k,attrs[k]);parent.appendChild(e);return e;}

PANELS.forEach(p=>{
  const x=yr=>COLX[p.col]+(yr-1984)*YEARW;
  const [y100,y0]=ROWY[p.row];
  const y=v=>y0-(v/100)*(y0-y100);
  const left=x(1984)-20,right=x(2021)+20,top=y100-17,bot=y0+17;
  const pg=mk('g',{},gGrid);
  
  
  for(let v=0;v<=100;v+=12.5){
    const major=v%25===0;
    mk('line',{x1:left,x2:right,y1:y(v),y2:y(v),stroke:major?'#e6e6e6':'#f0f0f0','stroke-width':major?3:2},pg);
  }
  for(let yr=1984;yr<=2021;yr++){
    mk('line',{x1:x(yr),x2:x(yr),y1:top,y2:bot,stroke:'#ebebeb','stroke-width':2.2},pg);
  }
  const t=mk('text',{x:(left+right)/2,y:ROWY[p.row][0]-(p.row===0?54:50),'text-anchor':'middle','font-size':42,fill:'#000'},gLab);
  t.textContent=p.title;
  
  
  if(p.col===0){
    yTicks.forEach(v=>{
      const tl=mk('text',{x:left-16,y:y(v)+12,'text-anchor':'end','font-size':35,fill:'#4d4d4d'},gLab);
      tl.textContent=v;
      
      
    });
  }
  if(p.xl){
    xTicks.forEach(v=>{
      const tl=mk('text',{x:x(v),y:bot+42,'text-anchor':'middle','font-size':35,fill:'#4d4d4d'},gLab);
      tl.textContent=v;
      
      
    });
  }
  const lg=mk('g',{},gLines);
  
  
  SERIES.forEach((s,si)=>{
    const arr=p.data[s];
    let d='',pen=false;
    arr.forEach((v,i)=>{
      if(v===null||v===undefined){pen=false;return;}
      d+=(pen?'L':'M')+x(p.start+i).toFixed(1)+','+y(v).toFixed(1);
      pen=true;
    });
    const path=mk('path',{d:d,fill:'none',stroke:COLORS[si],'stroke-width':3.8,'stroke-linejoin':'round','stroke-linecap':'round'},lg);
    
    
  });
});

const legend=document.getElementById('legend');
const LCOLX=[1266,1526,1783,2070];
const LROWY=[2268,2348,2431];
SERIES.forEach((s,i)=>{
  const c=Math.floor(i/3),r=i%3;
  const g=mk('g',{},legend);
  
  
  mk('line',{x1:LCOLX[c],x2:LCOLX[c]+68,y1:LROWY[r],y2:LROWY[r],stroke:COLORS[i],'stroke-width':4.5},g);
  const t=mk('text',{x:LCOLX[c]+92,y:LROWY[r]+15,'font-size':43,fill:'#000'},g);
  t.textContent=LABELS[i];
});
</script>
</body></html>
